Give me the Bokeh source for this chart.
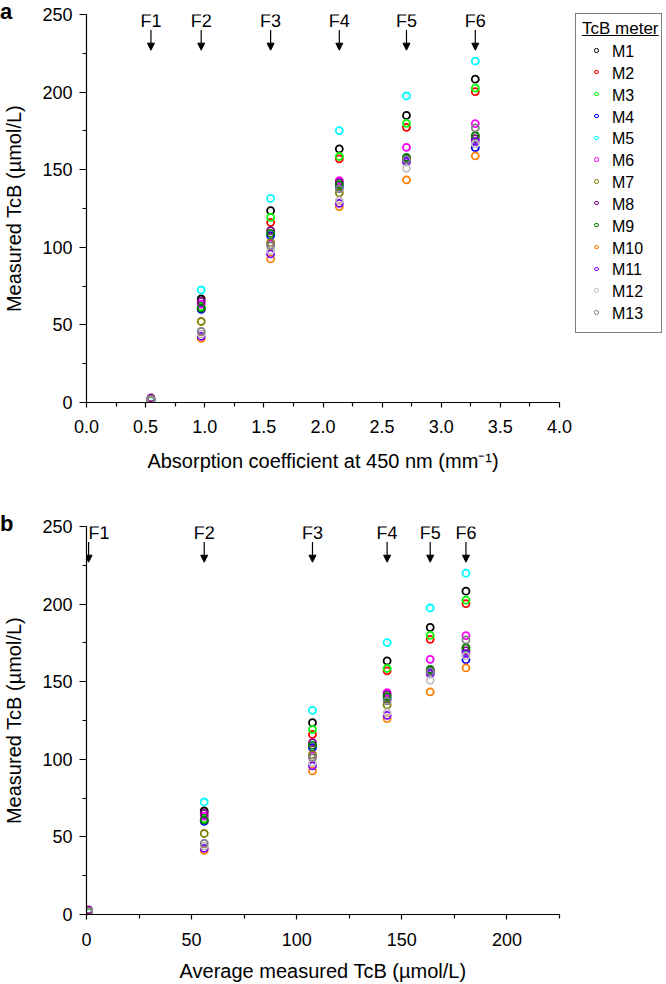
from bokeh.plotting import figure
from bokeh.models import (ColumnDataSource, FixedTicker, Arrow, NormalHead, Range1d,
                          GridBox, Div)
from bokeh.embed import file_html
from bokeh.resources import INLINE
from bokeh.core.properties import value

# ---------------- data ----------------
filters = ["F1", "F2", "F3", "F4", "F5", "F6"]
absorption = [0.545, 0.97, 1.557, 2.138, 2.706, 3.288]       # mm^-1
avg_tcb = [1.0, 56.0, 107.5, 143.0, 163.5, 180.5]            # umol/L
filter_align_b = ["left", "center", "center", "center", "center", "center"]

meters = ["M1", "M2", "M3", "M4", "M5", "M6", "M7", "M8", "M9", "M10", "M11", "M12", "M13"]
colors = ["#000000", "#FF0000", "#00FF00", "#0000FF", "#00FFFF", "#FF00FF", "#808000",
          "#800080", "#008000", "#FF8000", "#8000FF", "#C0C0C0", "#808080"]

m1 = [2.0, 66.7, 123.6, 163.4, 185.0, 208.3]
m2 = [2.0, 60.5, 116.0, 157.0, 177.3, 200.3]
m3 = [2.0, 61.7, 119.3, 158.5, 179.9, 202.5]
m4 = [2.0, 60.0, 107.5, 139.0, 156.0, 164.2]
m5 = [1.0, 72.5, 131.5, 175.2, 197.5, 219.9]
m6 = [2.0, 63.4, 102.0, 143.0, 164.4, 179.7]
m7 = [2.0, 52.2, 103.0, 135.0, 157.0, 172.0]
m8 = [3.0, 65.1, 110.7, 141.8, 157.5, 170.0]
m9 = [2.0, 60.8, 109.0, 140.4, 158.0, 171.8]
m10 = [1.5, 41.3, 92.5, 126.2, 143.4, 158.9]
m11 = [2.0, 42.6, 95.7, 128.3, 155.0, 168.3]
m12 = [2.0, 44.1, 97.8, 130.0, 150.9, 166.6]
m13 = [2.0, 45.8, 101.0, 137.6, 156.5, 176.9]
readings = [m1, m2, m3, m4, m5, m6, m7, m8, m9, m10, m11, m12, m13]

y_ticks = [0, 50, 100, 150, 200, 250]
y_minor = [25, 75, 125, 175, 225]
xa_ticks = [0.0, 0.5, 1.0, 1.5, 2.0, 2.5, 3.0, 3.5, 4.0]
xa_minor = [0.25, 0.75, 1.25, 1.75, 2.25, 2.75, 3.25, 3.75]
xb_ticks = [0, 50, 100, 150, 200]
xb_minor = [25, 75, 125, 175, 225]

# ---------------- style ----------------
FONT = "Liberation Sans"
FRAME_W = 473
FRAME_H = 388
LEFT = 85
RIGHT = 108
LABEL_Y = 246
ARROW_TOP = 240
ARROW_BOT = 227


def style_axes(p, xticks, xminor, xfmt):
    for ax in (p.xaxis[0], p.yaxis[0]):
        ax.axis_line_color = "black"
        ax.axis_line_width = 1.2
        ax.major_tick_line_color = "black"
        ax.minor_tick_line_color = "black"
        ax.major_tick_line_width = 1.2
        ax.minor_tick_line_width = 1.2
        ax.major_tick_in = 0
        ax.minor_tick_in = 0
        ax.major_label_text_font = FONT
        ax.major_label_text_font_size = "18px"
        ax.major_label_text_color = "black"
        ax.axis_label_text_font = FONT
        ax.axis_label_text_font_size = "20px"
        ax.axis_label_text_font_style = "normal"
        ax.axis_label_text_color = "black"
    p.yaxis[0].ticker = FixedTicker(ticks=y_ticks, minor_ticks=y_minor)
    p.yaxis[0].major_tick_out = 7
    p.yaxis[0].minor_tick_out = 4
    p.yaxis[0].major_label_standoff = 7
    p.yaxis[0].axis_label_standoff = 14
    p.xaxis[0].ticker = FixedTicker(ticks=xticks, minor_ticks=xminor)
    p.xaxis[0].major_tick_out = 5
    p.xaxis[0].minor_tick_out = 4
    p.xaxis[0].major_label_overrides = {t: xfmt(t) for t in xticks}
    p.xgrid.visible = False
    p.ygrid.visible = False
    p.outline_line_color = None


def add_filters(p, src):
    p.text(x="x", y=LABEL_Y, text="label", source=src, text_font=value(FONT),
           text_font_size=value("18px"), text_align="align", text_baseline="middle",
           text_color="black")
    p.add_layout(Arrow(x_start="x", y_start=ARROW_TOP, x_end="x", y_end=ARROW_BOT, source=src,
                       line_width=1.2, line_color="black",
                       end=NormalHead(size=7, fill_color="black", line_color="black")))


def panel_letter(text, top):
    return Div(text=text, width=20, height=30, align="start", margin=(top, 0, 0, 0),
               styles={"font-family": FONT, "font-size": "22px", "font-weight": "bold",
                       "line-height": "24px", "color": "black"})


def legend_div(title, names, cols):
    pitch = 21.83
    rows = []
    for i, (n, c) in enumerate(zip(names, cols)):
        cy = 38 + pitch * i
        rows.append(
            f'<span style="position:absolute;left:18.2px;top:{cy - 3.8:.1f}px;width:4.4px;'
            f'height:4.4px;border:1.6px solid {c};border-radius:50%;"></span>'
            f'<span style="position:absolute;left:36px;top:{cy - 10:.1f}px;line-height:20px;'
            f'font-size:16px;">{n}</span>')
    html = (
        '<div style="position:relative;box-sizing:border-box;width:87px;height:320px;'
        f'border:1px solid #808080;background:#ffffff;font-family:\'{FONT}\';color:#000;">'
        '<span style="position:absolute;left:6px;top:6px;font-size:17px;line-height:17px;'
        f'text-decoration:underline;white-space:nowrap;">{title}</span>'
        + "".join(rows) + '</div>')
    return Div(text=html, width=87, height=320, align="start", margin=(13, 0, 0, 575))


# ---------------- panel a ----------------
pa = figure(frame_width=FRAME_W, frame_height=FRAME_H, output_backend="svg",
            toolbar_location=None, x_range=Range1d(0, 4.0), y_range=Range1d(0, 250),
            min_border_left=LEFT, min_border_right=RIGHT, min_border_top=14,
            min_border_bottom=75)
pa.xaxis.axis_label = "Absorption coefficient at 450 nm (mm\u207B\u00B9)"
pa.yaxis.axis_label = "Measured TcB (\u00B5mol/L)"
style_axes(pa, xa_ticks, xa_minor, lambda t: f"{t:.1f}")
pa.xaxis[0].major_label_standoff = 12
pa.xaxis[0].axis_label_standoff = 14

src_a = ColumnDataSource(dict(x=absorption, label=filters,
                              align=["center"] * len(filters)))
add_filters(pa, src_a)

for name, col, vals in zip(meters, colors, readings):
    pa.scatter(x=absorption, y=vals, marker="circle", size=7, fill_color=None,
               line_color=col, line_width=1.8)

# ---------------- panel b ----------------
pb = figure(frame_width=FRAME_W, frame_height=FRAME_H, output_backend="svg",
            toolbar_location=None, x_range=Range1d(0, 225), y_range=Range1d(0, 250),
            min_border_left=LEFT, min_border_right=RIGHT, min_border_top=49,
            min_border_bottom=70)
pb.xaxis.axis_label = "Average measured TcB (\u00B5mol/L)"
pb.yaxis.axis_label = "Measured TcB (\u00B5mol/L)"
style_axes(pb, xb_ticks, xb_minor, lambda t: f"{t:d}")
pb.xaxis[0].major_label_standoff = 13
pb.xaxis[0].axis_label_standoff = 11

src_b = ColumnDataSource(dict(x=avg_tcb, label=filters, align=filter_align_b))
add_filters(pb, src_b)

for name, col, vals in zip(meters, colors, readings):
    pb.scatter(x=avg_tcb, y=vals, marker="circle", size=7, fill_color=None,
               line_color=col, line_width=1.8)

grid = GridBox(children=[(pa, 0, 0), (panel_letter("a", 0), 0, 0),
                         (legend_div("TcB meter", meters, colors), 0, 0),
                         (pb, 1, 0), (panel_letter("b", 35), 1, 0)], spacing=0)
open("out.html", "w").write(file_html(grid, INLINE))
